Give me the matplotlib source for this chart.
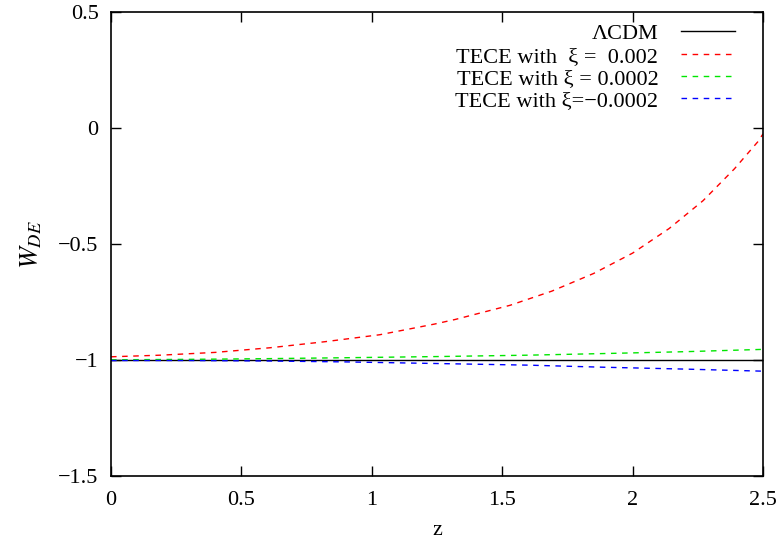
import numpy as np
import matplotlib
matplotlib.use('Agg')
import matplotlib.pyplot as plt
from matplotlib.ticker import FuncFormatter

# valores
z_lcdm = [0.0, 2.5]
w_lcdm = [-1.0, -1.0]

z_red = [0.0, 0.19, 0.40, 0.61, 0.82, 1.03, 1.24, 1.32, 1.53, 1.69, 1.85, 2.00, 2.14, 2.27, 2.39, 2.48, 2.50]
w_red = [-0.986, -0.979, -0.967, -0.947, -0.921, -0.891, -0.845, -0.825, -0.764, -0.703, -0.627, -0.539, -0.433, -0.313, -0.176, -0.059, -0.025]

z_green = [0.0, 0.3, 0.6, 0.9, 1.25, 1.6, 1.89, 2.2, 2.5]
w_green = [-0.999, -0.997, -0.994, -0.990, -0.985, -0.979, -0.972, -0.964, -0.954]

z_blue = [0.0, 0.3, 0.6, 0.9, 1.25, 1.6, 1.89, 2.2, 2.5]
w_blue = [-1.002, -1.002, -1.004, -1.008, -1.015, -1.022, -1.031, -1.039, -1.048]

labels = ['ΛCDM', 'TECE with  ξ =  0.002', 'TECE with ξ = 0.0002', 'TECE with ξ=−0.0002']

plt.rcParams['font.family'] = ['Liberation Serif', 'DejaVu Serif']
plt.rcParams['mathtext.fontset'] = 'stix'
plt.rcParams['font.size'] = 16

fig = plt.figure(figsize=(7.79, 5.5), dpi=100)
ax = fig.add_axes([0.1425, 0.1345, 0.837, 0.8435])

ax.plot(z_lcdm, w_lcdm, color='black', lw=1.0, label=labels[0])
ax.plot(z_red, w_red, color='#ff0000', lw=1.0, ls=(0, (4, 4)), label=labels[1])
ax.plot(z_green, w_green, color='#00e600', lw=1.0, ls=(0, (4, 4)), label=labels[2])
ax.plot(z_blue, w_blue, color='#0000ff', lw=1.0, ls=(0, (4, 4)), label=labels[3])

ax.set_xlim(0, 2.5)
ax.set_ylim(-1.5, 0.5)
ax.set_xticks(np.arange(0, 2.51, 0.5))
ax.set_yticks(np.arange(-1.5, 0.51, 0.5))
fmt = FuncFormatter(lambda v, p: ('%g' % v).replace('-', '\u2212'))
ax.xaxis.set_major_formatter(fmt)
ax.yaxis.set_major_formatter(fmt)
ax.tick_params(direction='in', length=7, width=1, top=True, right=True)
ax.tick_params(axis='y', pad=9)
ax.tick_params(axis='x', pad=11)
for s in ax.spines.values():
    s.set_linewidth(1.2)

ax.set_xlabel('z', labelpad=8)
ax.set_ylabel(r'$W_{DE}$', labelpad=10, fontsize=19)

leg = ax.legend(loc='upper right', bbox_to_anchor=(0.957, 0.975), frameon=False,
                markerfirst=False, handlelength=2.45, handletextpad=1.0,
                labelspacing=0.08, borderpad=0.0, borderaxespad=0.0)
for t in leg.get_texts():
    t.set_ha('right')

fig.savefig('out.png', dpi=100)
